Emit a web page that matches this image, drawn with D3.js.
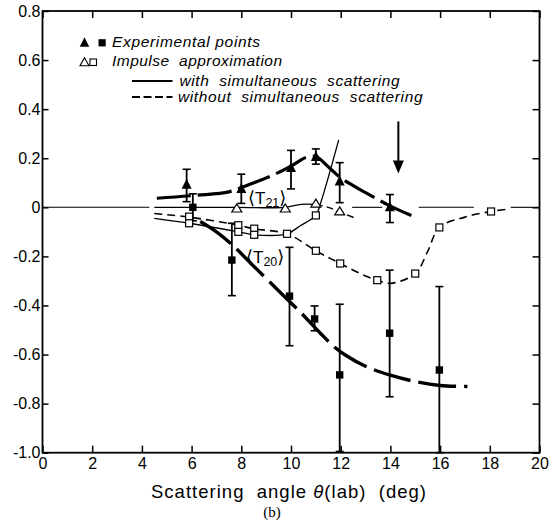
<!DOCTYPE html>
<html><head><meta charset="utf-8">
<script src="https://cdn.jsdelivr.net/npm/d3@7"></script>
<style>body{margin:0;background:#fff}svg{display:block}</style>
</head><body>
<script>
// ---------- data ----------
const xTicks = [0,2,4,6,8,10,12,14,16,18,20];
const xTickLabels = ["0","2","4","6","8","10","12","14","16","18","20"];
const yTicks = [0.8,0.6,0.4,0.2,0,-0.2,-0.4,-0.6,-0.8,-1.0];
const yTickLabels = ["0.8","0.6","0.4","0.2","0","-0.2","-0.4","-0.6","-0.8","-1.0"];

// experimental <T21> (filled triangles): x, value, low, high
const expT21X  = [5.8, 8.0, 10.0, 11.0, 11.96, 13.98];
const expT21Y  = [0.092, 0.075, 0.16, 0.205, 0.105, 0.0];
const expT21Lo = [0.023, 0.016, 0.075, 0.176, 0.019, -0.062];
const expT21Hi = [0.155, 0.135, 0.232, 0.238, 0.182, 0.052];

// experimental <T20> (filled squares)
const expT20X  = [6.05, 7.62, 9.94, 10.95, 11.96, 13.97, 15.97];
const expT20Y  = [0.0, -0.215, -0.362, -0.455, -0.683, -0.513, -0.663];
const expT20Lo = [-0.055, -0.36, -0.564, -0.503, -0.995, -0.772, -1.0];
const expT20Hi = [0.055, -0.065, -0.163, -0.402, -0.395, -0.256, -0.323];

// impulse approximation <T21> (open triangles)
const impT21X = [7.82, 9.77, 11.0, 11.96];
const impT21Y = [-0.006, -0.006, 0.014, -0.018];

// impulse approximation <T20> (open squares)
const impT20X = [5.9, 5.9, 7.88, 7.88, 8.52, 8.52, 9.84, 11.0, 11.0, 11.98, 13.47, 15.0, 15.97, 18.05];
const impT20Y = [-0.038, -0.065, -0.073, -0.1, -0.087, -0.112, -0.108, -0.033, -0.177, -0.229, -0.297, -0.27, -0.082, -0.017];

// curves
const fitT21X = [4.6, 6.2, 7.5, 8.2, 9.2, 10.0, 10.6, 11.0, 11.5, 12.0, 13.0, 14.0, 15.0];
const fitT21Y = [0.037, 0.049, 0.063, 0.088, 0.128, 0.168, 0.203, 0.207, 0.165, 0.12, 0.06, 0.005, -0.04];

const fitT20X = [6.35, 7.0, 7.6, 8.5, 9.6, 10.4, 11.2, 11.7, 12.2, 13.0, 14.0, 15.0, 16.0, 17.1];
const fitT20Y = [-0.058, -0.1, -0.15, -0.24, -0.35, -0.43, -0.515, -0.565, -0.603, -0.648, -0.684, -0.71, -0.726, -0.73];

const withT21X = [4.5, 7.82, 9.77, 10.4, 11.0];
const withT21Y = [0.0, 0.0, 0.0, 0.012, 0.012];
const withoutT21X = [11.0, 11.5, 11.96, 12.6];
const withoutT21Y = [0.012, 0.0, -0.018, -0.045];

const withT20X = [4.5, 5.9, 7.88, 8.52, 9.84, 10.37, 11.0, 11.2, 11.92];
const withT20Y = [-0.045, -0.065, -0.1, -0.112, -0.108, -0.075, -0.033, 0.02, 0.275];
const withoutT20X = [4.5, 5.9, 7.88, 8.52, 9.84, 11.0, 11.98, 13.0, 13.47, 14.0, 15.0, 15.5, 15.97, 17.0, 18.05, 18.7];
const withoutT20Y = [-0.025, -0.04, -0.073, -0.088, -0.108, -0.177, -0.229, -0.28, -0.297, -0.31, -0.27, -0.18, -0.082, -0.04, -0.017, -0.008];

// thin reference line at zero, drawn in pieces
const zeroSegStart = [0, 12.46, 15.14, 18.84];
const zeroSegEnd   = [4.3, 13.67, 17.36, 20];

// arrow marking 14.3 deg
const arrowX = 14.32, arrowTop = 0.35, arrowTip = 0.138;

// ---------- drawing ----------
const W = 552, H = 531;
const svg = d3.select("body").append("svg").attr("width", W).attr("height", H);
const x = d3.scaleLinear().domain([0, 20]).range([42.5, 539.5]);
const y = d3.scaleLinear().domain([-1, 0.8]).range([452.7, 11]);
const FONT = "'Liberation Sans', Arial, sans-serif";

// axes with inward ticks
function styleAxis(g){
  g.select(".domain").remove();
  g.selectAll(".tick line").attr("stroke","#000").attr("stroke-width",1.5);
  g.selectAll("text").attr("font-family",FONT).attr("font-size",16).attr("fill","#000");
}
svg.append("g").attr("transform",`translate(0,${y(-1)})`)
  .call(d3.axisBottom(x).tickValues(xTicks).tickFormat((d,i)=>xTickLabels[i]).tickSize(-7).tickPadding(5))
  .call(styleAxis);
svg.append("g").attr("transform",`translate(0,${y(0.8)})`)
  .call(d3.axisTop(x).tickValues(xTicks).tickFormat("").tickSize(-7))
  .call(styleAxis);
svg.append("g").attr("transform",`translate(${x(0)},0)`)
  .call(d3.axisLeft(y).tickValues(yTicks).tickFormat((d,i)=>yTickLabels[i]).tickSize(-6).tickPadding(2))
  .call(styleAxis);
svg.append("g").attr("transform",`translate(${x(20)},0)`)
  .call(d3.axisRight(y).tickValues(yTicks).tickFormat("").tickSize(-7))
  .call(styleAxis);

// frame
svg.append("rect").attr("x",x(0)).attr("y",y(0.8)).attr("width",x(20)-x(0)).attr("height",y(-1)-y(0.8))
  .attr("fill","none").attr("stroke","#000").attr("stroke-width",1.8);

// zero line
svg.append("g").selectAll("line").data(zeroSegStart).join("line")
  .attr("x1",d=>x(d)).attr("x2",(d,i)=>x(zeroSegEnd[i]))
  .attr("y1",y(0)).attr("y2",y(0)).attr("stroke","#000").attr("stroke-width",1.1);

const lineGen = d3.line().x(d=>x(d[0])).y(d=>y(d[1])).curve(d3.curveCatmullRom.alpha(0.5));
const zip = (a,b)=>a.map((v,i)=>[v,b[i]]);
function curve(xs, ys, width, dash){
  svg.append("path").attr("d", lineGen(zip(xs,ys))).attr("fill","none")
    .attr("stroke","#000").attr("stroke-width",width)
    .attr("stroke-dasharray", dash || null).attr("stroke-linecap","butt");
}
curve(withT21X, withT21Y, 1.3);
curve(withoutT21X, withoutT21Y, 1.4, "7,4");
curve(withT20X, withT20Y, 1.3);
curve(withoutT20X, withoutT20Y, 1.6, "8,5");
curve(fitT21X, fitT21Y, 3.2, "34,7");
curve(fitT20X, fitT20Y, 3.4, "38,8");

// error bars
function errorBars(xs, lo, hi){
  const g = svg.append("g").attr("stroke","#000").attr("stroke-width",1.8);
  xs.forEach((xv,i)=>{
    const px = x(xv);
    g.append("line").attr("x1",px).attr("x2",px).attr("y1",y(lo[i])).attr("y2",y(hi[i]));
    g.append("line").attr("x1",px-4).attr("x2",px+4).attr("y1",y(lo[i])).attr("y2",y(lo[i])).attr("stroke-width",1.6);
    g.append("line").attr("x1",px-4).attr("x2",px+4).attr("y1",y(hi[i])).attr("y2",y(hi[i])).attr("stroke-width",1.6);
  });
}
errorBars(expT21X, expT21Lo, expT21Hi);
errorBars(expT20X, expT20Lo, expT20Hi);

// markers
function triPath(cx, cy, w, h){
  return `M${cx},${cy-h*0.6}L${cx+w/2},${cy+h*0.4}L${cx-w/2},${cy+h*0.4}Z`;
}
svg.append("g").selectAll("rect").data(impT20X).join("rect")
  .attr("x",d=>x(d)-3.5).attr("y",(d,i)=>y(impT20Y[i])-3.5).attr("width",7).attr("height",7)
  .attr("fill","#fff").attr("stroke","#000").attr("stroke-width",1.2);
svg.append("g").selectAll("path").data(impT21X).join("path")
  .attr("d",(d,i)=>triPath(x(d), y(impT21Y[i]), 10, 8))
  .attr("fill","#fff").attr("stroke","#000").attr("stroke-width",1.2);
svg.append("g").selectAll("rect").data(expT20X).join("rect")
  .attr("x",d=>x(d)-3.7).attr("y",(d,i)=>y(expT20Y[i])-3.7).attr("width",7.4).attr("height",7.4)
  .attr("fill","#000");
svg.append("g").selectAll("path").data(expT21X).join("path")
  .attr("d",(d,i)=>triPath(x(d), y(expT21Y[i]), 10, 10)).attr("fill","#000");

// arrow
const ax = x(arrowX);
svg.append("line").attr("x1",ax).attr("x2",ax).attr("y1",y(arrowTop)).attr("y2",y(arrowTip)-8)
  .attr("stroke","#000").attr("stroke-width",2);
svg.append("path").attr("d",`M${ax-5.5},${y(arrowTip)-13}L${ax+5.5},${y(arrowTip)-13}L${ax},${y(arrowTip)}Z`).attr("fill","#000");

// <T21>, <T20> labels
function tLabel(px, py, sub){
  const t = svg.append("text").attr("x",px).attr("y",py).attr("font-family",FONT).attr("font-size",17).attr("fill","#000");
  t.append("tspan").attr("font-family","'DejaVu Sans', sans-serif").attr("font-size",18).text("\u27E8");
  t.append("tspan").text("T");
  t.append("tspan").attr("font-size",12.5).attr("dy",3).text(sub);
  t.append("tspan").attr("font-family","'DejaVu Sans', sans-serif").attr("font-size",18).attr("dy",-3).text("\u27E9");
}
tLabel(248, 203.5, "21");
tLabel(246, 262.5, "20");

// legend
const lg = svg.append("g");
lg.append("path").attr("d",triPath(84.5,43,9.5,9.5)).attr("fill","#000");
lg.append("rect").attr("x",98.5).attr("y",39.2).attr("width",7.2).attr("height",7.2).attr("fill","#000");
lg.append("path").attr("d",triPath(84.5,62.5,9,8)).attr("fill","#fff").attr("stroke","#000").attr("stroke-width",1.1);
lg.append("rect").attr("x",90).attr("y",59).attr("width",6.5).attr("height",6.5).attr("fill","#fff").attr("stroke","#000").attr("stroke-width",1.1);
lg.append("line").attr("x1",132).attr("x2",172.5).attr("y1",81).attr("y2",81).attr("stroke","#000").attr("stroke-width",2);
lg.append("line").attr("x1",132).attr("x2",172.5).attr("y1",97).attr("y2",97).attr("stroke","#000").attr("stroke-width",2).attr("stroke-dasharray","8,3.5");
const legendText = [
  {t:"Experimental points", x:112, y:47, len:148},
  {t:"Impulse  approximation", x:112, y:66, len:170},
  {t:"with  simultaneous  scattering", x:179.5, y:86, len:220},
  {t:"without  simultaneous  scattering", x:178, y:102, len:244.5}
];
lg.selectAll("text").data(legendText).join("text")
  .attr("x",d=>d.x).attr("y",d=>d.y).attr("textLength",d=>d.len).attr("lengthAdjust","spacing")
  .attr("font-family",FONT).attr("font-style","italic").attr("font-size",15.5).attr("fill","#000")
  .style("white-space","pre").text(d=>d.t);

// axis title
const title = svg.append("text").attr("x",151).attr("y",498).attr("textLength",275).attr("lengthAdjust","spacing")
  .attr("font-family",FONT).attr("font-size",18.5).attr("fill","#000").style("white-space","pre");
title.append("tspan").text("Scattering  angle ");
title.append("tspan").attr("font-style","italic").text("\u03B8");
title.append("tspan").text("(lab)  (deg)");

svg.append("text").attr("x",272).attr("y",517).attr("text-anchor","middle")
  .attr("font-family","'Liberation Serif', 'Times New Roman', serif").attr("font-size",15).attr("fill","#000").text("(b)");
</script>
</body></html>
